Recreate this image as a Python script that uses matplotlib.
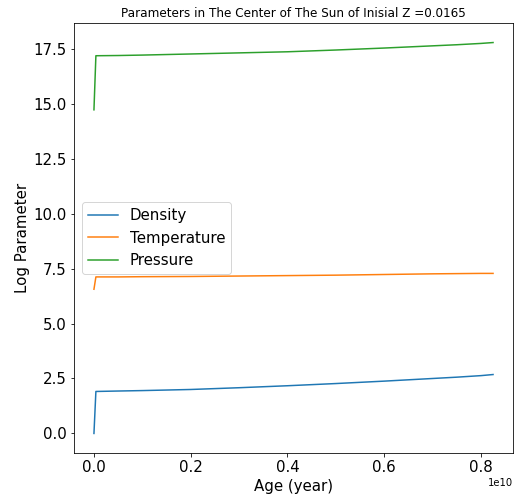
import matplotlib
matplotlib.use('Agg')
import matplotlib.pyplot as plt
import numpy as np

# age in years
age = np.array([0.0, 0.004, 0.05, 0.1, 0.2, 0.3, 0.4, 0.5, 0.6, 0.7, 0.75, 0.8, 0.825]) * 1e10

# log of central parameters
log_density = [0.0, 1.91, 1.93, 1.95, 2.0, 2.08, 2.17, 2.27, 2.38, 2.5, 2.56, 2.63, 2.68]
log_temperature = [6.56, 7.12, 7.12, 7.13, 7.14, 7.16, 7.18, 7.2, 7.23, 7.26, 7.27, 7.28, 7.28]
log_pressure = [14.72, 17.18, 17.19, 17.21, 17.26, 17.31, 17.36, 17.44, 17.53, 17.63, 17.68, 17.74, 17.78]

fig = plt.figure(figsize=(517/72, 497/72), dpi=72)
ax = fig.add_axes([74/517, 1 - 453/497, 439/517, 430/497])

ax.plot(age, log_density, label='Density')
ax.plot(age, log_temperature, label='Temperature')
ax.plot(age, log_pressure, label='Pressure')

ax.set_title('Parameters in The Center of The Sun of Inisial Z =0.0165', fontsize=12)
ax.set_xlabel('Age (year)', fontsize=15)
ax.set_ylabel('Log Parameter', fontsize=15)
ax.tick_params(labelsize=15)
# force the 1e10 offset like the original
ax.ticklabel_format(axis='x', style='sci', scilimits=(10, 10))
ax.legend(fontsize=15, loc='center left')

fig.savefig('out.png', dpi=72)
